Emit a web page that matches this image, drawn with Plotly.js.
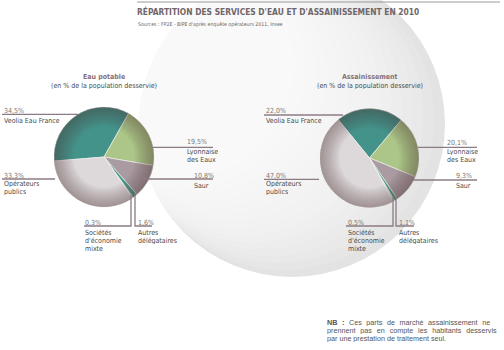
<!DOCTYPE html>
<html><head><meta charset="utf-8">
<script src="https://cdn.plot.ly/plotly-3.0.1.min.js"></script>
<style>html,body{margin:0;padding:0;background:#fff}#chart{width:504px;height:350px}</style>
</head><body><div id="chart"></div>
<script>
// ---- data ----
const categories = ["Veolia Eau France", "Lyonnaise des Eaux", "Saur", "Autres délégataires", "Sociétés d'économie mixte", "Opérateurs publics"];
const eauPotable = [34.5, 19.5, 10.8, 1.6, 0.3, 33.3];
const assainissement = [22.0, 20.1, 9.3, 1.1, 0.5, 47.0];
const labelLines = [["Veolia Eau France"], ["Lyonnaise", "des Eaux"], ["Saur"], ["Autres", "délégataires"], ["Sociétés", "d'économie", "mixte"], ["Opérateurs", "publics"]];
const pieTitles = ["Eau potable", "Assainissement"];
const pieSubtitle = "(en % de la population desservie)";
const chartTitle = "RÉPARTITION DES SERVICES D'EAU ET D'ASSAINISSEMENT EN 2010";
const sourceText = "Sources : FP2E - BIPE d'après enquête opérateurs 2011, Insee";
const noteLines = ["<b>NB :</b> Ces parts de marché assainissement ne", "prennent pas en compte les habitants desservis", "par une prestation de traitement seul."];

// ---- layout helpers ----
const W = 504, H = 350;
const X = x => x / W, Y = y => 1 - y / H;
const sliceColors = ["#44938b", "#abc688", "#a99ba1", "#4d9a8b", "#cfdcc8", "#ddd8da"];
const lineColor = "#8c7b84";
const NARROW = "'Liberation Sans Narrow', 'DejaVu Sans Condensed', 'Liberation Sans', sans-serif";
const fmt = v => v.toFixed(1).replace('.', ',') + '%';

const annotations = [], shapes = [];
function txt(t, x, y, o) {
  o = o || {};
  annotations.push(Object.assign({text: t, x: X(x), y: Y(y), xref: 'paper', yref: 'paper', showarrow: false,
    xanchor: 'left', yanchor: 'middle', borderpad: 0, height: 7,
    font: {family: NARROW, size: 7, color: '#4a4a4a'}}, o));
}
function path(d) {
  shapes.push({type: 'path', xref: 'paper', yref: 'paper', path: d, line: {color: lineColor, width: 1.3}, layer: 'above'});
}
function P(x, y) { return X(x) + ',' + Y(y); }
function circle(cx, cy, r, fill, layer, line) {
  shapes.push({type: 'circle', xref: 'paper', yref: 'paper', x0: X(cx - r), x1: X(cx + r), y0: Y(cy + r), y1: Y(cy - r),
    fillcolor: fill, line: line || {width: 0}, layer: layer || 'below'});
}

// background disc with soft gradient (white toward upper-left)
circle(292, 124, 153, '#e3e3e3');
const N = 26;
for (let i = 1; i <= N; i++) {
  const t = i / N;
  circle(292 - 210 * t, 124 - 110 * t, 153 - 70 * t, 'rgba(255,255,255,0.13)');
}
// top rule
shapes.push({type: 'line', xref: 'paper', yref: 'paper', x0: X(137), x1: X(500), y0: Y(2), y1: Y(2), line: {color: '#9a9a9a', width: 1}, layer: 'below'});

// label geometry per pie (pixel positions)
const geo = [
  { // Eau potable
    cx: 104, cy: 157, r: 50, rot: -94.7,
    pct: [[3,110.7],[186,141.7],[193,175],[137,222.7],[84,222.7],[3,175]],
    names: [[3,120],[186,151],[193,185],[137,232.3],[84,232.3],[3,183.3]],
    lines: [[[2,114.3],[78,114.3]], [[152,147.3],[213,147.3]], [[138,179],[213,179]],
            [[152,226],[135,226],[135,193]], [[84,226],[131,226],[131,195]], [[2,179],[55,179]]]
  },
  { // Assainissement
    cx: 369.5, cy: 158, r: 49.5, rot: -39.3,
    pct: [[265,110.7],[446,142.3],[455,175.5],[398,222.3],[347,222.3],[265,175]],
    names: [[265,120],[446,151],[455,185],[398,232.3],[347,232.3],[265,183.3]],
    lines: [[[264,115],[343,115]], [[418,147.3],[477,147.3]], [[413,180],[477,180]],
            [[414,226],[396,226],[396,196]], [[346,226],[393,226],[393,197]], [[264,179.3],[319,179.3]]]
  }
];
const series = [eauPotable, assainissement];

const traces = [];
geo.forEach((g, k) => {
  traces.push({type: 'pie', values: series[k], labels: categories, sort: false, direction: 'clockwise', rotation: g.rot,
    textinfo: 'none', hoverinfo: 'none', showlegend: false,
    marker: {colors: sliceColors, line: {color: '#eeeeea', width: 0.7}},
    domain: {x: [X(g.cx - g.r), X(g.cx + g.r)], y: [Y(g.cy + g.r), Y(g.cy - g.r)]}});
  // spherical shading: smooth darkening toward the rim
  for (let j = 1; j <= 12; j++) {
    const w = 1.6 * j;
    circle(g.cx, g.cy, g.r - w / 2, 'rgba(0,0,0,0)', 'above', {color: 'rgba(70,45,58,0.04)', width: w});
  }
  txt('<b>' + pieTitles[k] + '</b>', g.cx, 77, {xanchor: 'center', font: {family: NARROW, size: 7, color: '#86707a'}});
  txt(pieSubtitle, g.cx, 85.5, {xanchor: 'center'});
  series[k].forEach((v, i) => {
    txt(fmt(v), g.pct[i][0], g.pct[i][1], {font: {family: NARROW, size: 7, color: '#777'}});
    labelLines[i].forEach((s, j) => txt(s, g.names[i][0], g.names[i][1] + j * 8.1));
    const pts = g.lines[i];
    path('M' + pts.map(p => P(p[0], p[1])).join(' L'));
  });
});

// titles
txt('<b>' + chartTitle + '</b>', 136, 11.5, {height: 10, font: {family: NARROW, size: 8.4, color: '#706669'}});
txt(sourceText, 137, 23.5, {height: 6, font: {family: NARROW, size: 5.2, color: '#666'}});
const wordSpacing = [2.6, 2.9, 0];
noteLines.forEach((s, j) => txt('<span style="word-spacing:' + wordSpacing[j] + 'px">' + s + '</span>', 326, 322.6 + j * 8.1,
  {font: {family: "'Liberation Sans', Arial, sans-serif", size: 7.2, color: '#555'}}));

Plotly.newPlot('chart', traces, {
  width: W, height: H, margin: {l: 0, r: 0, t: 0, b: 0},
  paper_bgcolor: '#fff', plot_bgcolor: '#fff',
  annotations: annotations, shapes: shapes
}, {displayModeBar: false, staticPlot: true});
</script></body></html>
